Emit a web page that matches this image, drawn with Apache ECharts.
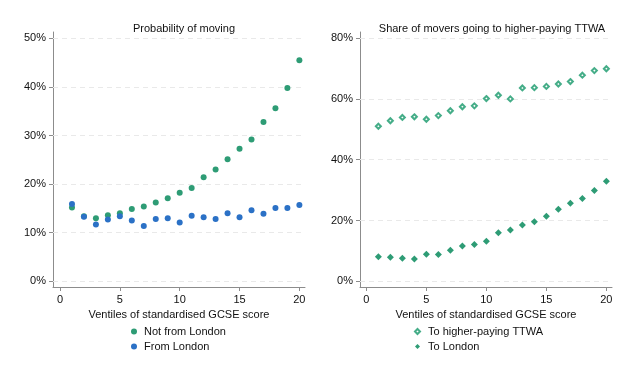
<!DOCTYPE html>
<html>
<head>
<meta charset="utf-8">
<script src="https://cdn.jsdelivr.net/npm/echarts@6/dist/echarts.min.js"></script>
<style>html,body{margin:0;padding:0;background:#fff;}#c{width:631px;height:378px;}</style>
</head>
<body>
<div id="c"></div>
<script>
const ventiles = [1,2,3,4,5,6,7,8,9,10,11,12,13,14,15,16,17,18,19,20];
const notFromLondon = [15.2,13.4,13.0,13.6,14.0,14.9,15.4,16.2,17.1,18.2,19.2,21.4,23.0,25.1,27.3,29.2,32.8,35.6,39.8,45.5];
const fromLondon = [15.9,13.3,11.7,12.7,13.4,12.5,11.4,12.8,13.0,12.1,13.5,13.2,12.8,14.0,13.2,14.6,13.9,15.1,15.1,15.7];
const toHigherPaying = [51.0,52.8,53.9,54.1,53.3,54.5,56.1,57.4,57.7,60.1,61.2,60.0,63.6,63.7,64.1,64.9,65.7,67.8,69.3,69.9];
const toLondon = [8.1,7.9,7.6,7.3,8.9,8.8,10.2,11.6,12.1,13.2,16.0,16.9,18.5,19.6,21.4,23.7,25.7,27.2,29.9,32.9];
const xTicks = [0,5,10,15,20];
const yTicksLeft = [0,10,20,30,40,50];
const yTicksRight = [0,20,40,60,80];
const titles = ['Probability of moving','Share of movers going to higher-paying TTWA'];
const xName = 'Ventiles of standardised GCSE score';

const GREEN = '#2e9c75';
const GREEN_LIGHT = '#45ad88';
const BLUE = '#2b71c6';
const AXIS = '#8c8c8c';
const FONT = 'Liberation Sans, Arial, sans-serif';

const pairs = arr => arr.map((v,i)=>[ventiles[i], v]);

function xAxisCfg(gi, min, max){
  return {
    type:'value', gridIndex:gi, min:min, max:max,
    name:xName, nameLocation:'middle', nameGap:19,
    nameTextStyle:{fontFamily:FONT,fontSize:11,color:'#111'},
    axisLine:{show:true,onZero:false,lineStyle:{color:AXIS,width:1}},
    axisTick:{show:true,length:4,customValues:xTicks,lineStyle:{color:AXIS}},
    axisLabel:{customValues:xTicks,margin:7,fontFamily:FONT,fontSize:11,color:'#111'},
    splitLine:{show:false}
  };
}
function yAxisCfg(gi, min, max, ticks){
  return {
    type:'value', gridIndex:gi, min:min, max:max,
    axisLine:{show:true,onZero:false,lineStyle:{color:AXIS,width:1}},
    axisTick:{show:true,length:4,customValues:ticks,lineStyle:{color:AXIS}},
    axisLabel:{customValues:ticks,margin:7,fontFamily:FONT,fontSize:11,color:'#111',formatter:v=>v+'%'},
    splitLine:{show:false}
  };
}
function gridLines(ticks){
  return {
    silent:true, symbol:'none', animation:false, z:1,
    label:{show:false},
    emphasis:{disabled:true},
    lineStyle:{color:'#e9e9e9',type:[5,4],width:1},
    data: ticks.map(t=>({yAxis:t}))
  };
}

const chart = echarts.init(document.getElementById('c'), null, {renderer:'canvas'});
chart.setOption({
  animation:false,
  backgroundColor:'#fff',
  title:[
    {text:titles[0], left:179, top:18, textAlign:'center', textStyle:{fontFamily:FONT,fontSize:11,fontWeight:'normal',color:'#111'}},
    {text:titles[1], left:487, top:18, textAlign:'center', textStyle:{fontFamily:FONT,fontSize:11,fontWeight:'normal',color:'#111'}}
  ],
  grid:[
    {left:53, top:32, width:252, height:255},
    {left:360, top:32, width:252, height:255}
  ],
  xAxis:[ xAxisCfg(0,-0.585,20.47), xAxisCfg(1,-0.53,20.47) ],
  yAxis:[ yAxisCfg(0,-1.17,51.3,yTicksLeft), yAxisCfg(1,-1.88,82.0,yTicksRight) ],
  legend:[
    {orient:'vertical', left:131, top:325, itemWidth:6, itemHeight:6, itemGap:2, padding:0,
     textStyle:{fontFamily:FONT,fontSize:11,color:'#111',lineHeight:13,padding:[0,0,0,2]},
     data:['Not from London','From London']},
    {orient:'vertical', left:414, top:325, itemWidth:5, itemHeight:5, itemGap:2, padding:0,
     textStyle:{fontFamily:FONT,fontSize:11,color:'#111',lineHeight:13,padding:[0,0,0,3]},
     data:['To higher-paying TTWA','To London']}
  ],
  series:[
    {name:'Not from London', type:'scatter', xAxisIndex:0, yAxisIndex:0, symbol:'circle', symbolSize:6,
     itemStyle:{color:GREEN, opacity:1}, data:pairs(notFromLondon), markLine:gridLines(yTicksLeft), z:3},
    {name:'From London', type:'scatter', xAxisIndex:0, yAxisIndex:0, symbol:'circle', symbolSize:6,
     itemStyle:{color:BLUE, opacity:1}, data:pairs(fromLondon), z:4},
    {name:'To higher-paying TTWA', type:'scatter', xAxisIndex:1, yAxisIndex:1, symbol:'emptyDiamond', symbolSize:5,
     itemStyle:{color:GREEN_LIGHT, borderColor:GREEN_LIGHT, borderWidth:1.3, opacity:1}, data:pairs(toHigherPaying), markLine:gridLines(yTicksRight), z:3},
    {name:'To London', type:'scatter', xAxisIndex:1, yAxisIndex:1, symbol:'diamond', symbolSize:7,
     itemStyle:{color:GREEN, opacity:1}, data:pairs(toLondon), z:4}
  ]
});
</script>
</body>
</html>
